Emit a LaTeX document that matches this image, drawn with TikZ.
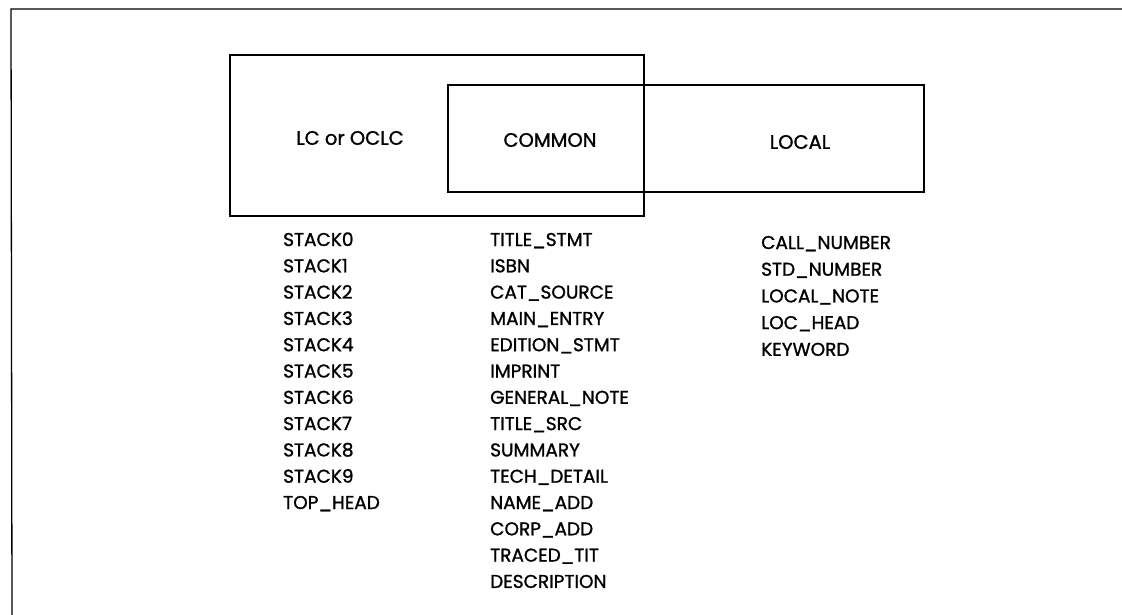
\documentclass[tikz,border=0pt]{standalone}
\usepackage{fontspec}
\setmainfont{Poppins}[FakeBold=1.2]
\begin{document}
\begin{tikzpicture}[x=1pt,y=-1pt,
  frame/.style={line width=1.3pt},
  box/.style={line width=1.6pt},
  lbl/.style={font=\fontsize{19.5}{19.5}\selectfont, inner sep=0pt},
  item/.style={font=\fontsize{18.5}{18.5}\selectfont, inner sep=0pt, anchor=base west}]
\useasboundingbox (0,0) rectangle (1122,615);
% frame
\coordinate (ftl) at (11,9);
\coordinate (ftr) at (1122,9);
\coordinate (fbl) at (12,615);
\draw[frame] (ftr) -- (ftl) -- (fbl);
% boxes
\draw[box] (230,55) rectangle (644,216);
\draw[box] (448,85) rectangle (924,192);
% labels
\node[lbl] (lc) at (350,138) {LC or OCLC};
\node[lbl] (common) at (550,140) {COMMON};
\node[lbl] (local) at (800,142) {LOCAL};
% column 1
\foreach \t [count=\i from 0] in {STACK0,STACK1,STACK2,STACK3,STACK4,STACK5,STACK6,STACK7,STACK8,STACK9,TOP\_HEAD}
  \node[item] (a\i) at (283,246+26.3*\i) {\t};
% column 2
\foreach \t [count=\i from 0] in {TITLE\_STMT,ISBN,CAT\_SOURCE,MAIN\_ENTRY,EDITION\_STMT,IMPRINT,GENERAL\_NOTE,TITLE\_SRC,SUMMARY,TECH\_DETAIL,NAME\_ADD,CORP\_ADD,TRACED\_TIT,DESCRIPTION}
  \node[item] (b\i) at (490,246+26.3*\i) {\t};
% column 3
\foreach \t [count=\i from 0] in {CALL\_NUMBER,STD\_NUMBER,LOCAL\_NOTE,LOC\_HEAD,KEYWORD}
  \node[item] (c\i) at (761,249+26.7*\i) {\t};
\end{tikzpicture}
\end{document}
